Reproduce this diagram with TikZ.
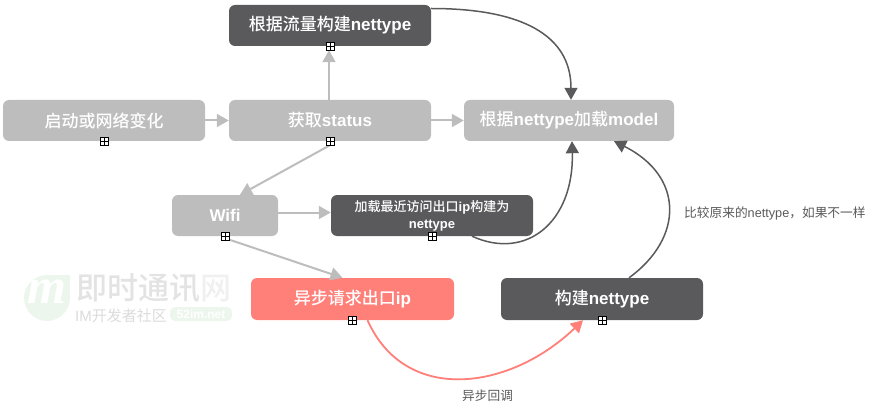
\documentclass[tikz,border=0pt]{standalone}
\usepackage{fontspec}
\setmainfont{Liberation Sans}
\newfontfamily\cjk[BoldFont={Noto Sans CJK SC Medium}]{Noto Sans CJK SC}
\newfontfamily\logofont{Liberation Serif}
\usetikzlibrary{arrows.meta}
\definecolor{boxgray}{HTML}{BDBDBD}
\definecolor{boxdark}{HTML}{5A5A5C}
\definecolor{boxred}{HTML}{FF7F79}
\definecolor{wmgreen}{HTML}{EDF6ED}
\begin{document}
\begin{tikzpicture}[x=1pt,y=-1pt,
    box/.style={rounded corners=6pt,text=white,inner sep=0pt,align=center,
      minimum width=202pt,minimum height=41pt,font=\fontsize{17}{20}\selectfont\bfseries},
    plusmark/.style={draw=black,fill=white,line width=0.6pt,minimum size=8pt,inner sep=0pt,
      path picture={\draw[line width=0.5pt] (path picture bounding box.north) -- (path picture bounding box.south)
        (path picture bounding box.west) -- (path picture bounding box.east);}},
    note/.style={text=boxdark,inner sep=0pt,font=\fontsize{12.7}{15}\selectfont},
    grayline/.style={draw=boxgray,line width=2pt,-{Triangle[length=12pt,width=13pt]}},
    darkline/.style={draw=boxdark,line width=1.5pt,-{Triangle[length=12pt,width=13pt]}},
    redline/.style={draw=boxred,line width=1.8pt,-{Triangle[length=12pt,width=13pt]}}]
    \useasboundingbox (0,0) rectangle (872,406);

    % Watermark
    \fill[wmgreen] (47,298) circle (23);
    \fill[wmgreen] (47,275) rectangle (70,298);
    \node[text=white,inner sep=0pt,font=\fontsize{50}{50}\selectfont\logofont\bfseries\itshape] (wmlogo) at (47,292) {m};
    \node[text=black!11,inner sep=0pt,anchor=west,text height=25pt,text depth=1pt,font=\fontsize{31}{31}\selectfont\cjk\bfseries] (wmname) at (76,287) {即时通讯\textcolor{black!6}{网}};
    \node[text=black!14,inner sep=0pt,anchor=west,text height=12pt,text depth=0pt,font=\fontsize{15}{15}\selectfont] (wmsub) at (75,315) {IM{\cjk 开发者社区}};
    \node[fill=wmgreen,text=white,rounded corners=5pt,minimum width=62pt,minimum height=14pt,inner sep=0pt,font=\fontsize{12}{12}\selectfont\bfseries] (wmsite) at (201,314) {52im.net};

    % Boxes
    \node[box,fill=boxgray] (start) at (104,120.5) {\cjk 启动或网络变化};
    \node[box,fill=boxgray] (status) at (330,120.5) {{\cjk 获取}status};
    \node[box,fill=boxdark] (flow) at (330,25.5) {{\cjk 根据流量构建}nettype};
    \node[box,fill=boxgray,minimum width=210pt] (model) at (569,120.5) {{\cjk 根据}nettype{\cjk 加载}model};
    \node[box,fill=boxgray,minimum width=106pt] (wifi) at (225,215.5) {Wifi};
    \node[box,fill=boxdark,font=\fontsize{13}{17}\selectfont\bfseries] (recent) at (432,215.5) {{\cjk 加载最近访问出口}ip{\cjk 构建为}\\nettype};
    \node[box,fill=boxred,minimum height=42pt,minimum width=203pt] (async) at (352.5,299) {{\cjk 异步请求出口}ip};
    \node[box,fill=boxdark,minimum height=42pt] (build) at (602,299) {{\cjk 构建}nettype};

    % Gray connectors
    \draw[grayline] (start) -- (status);
    \draw[grayline] ([xshift=-1pt]status.north) -- ([xshift=-1pt,yshift=-4pt]flow.south);
    \draw[grayline] (status) -- (model);
    \draw[grayline] ([yshift=-4pt]status.south) -- ([xshift=15pt]wifi.north);
    \draw[grayline] ([yshift=3pt]wifi.east) -- ([yshift=3pt]recent.west);
    \draw[grayline] ([yshift=-2pt]wifi.south) -- ([xshift=-10pt]async.north);

    % Dark connectors
    \draw[darkline] ([yshift=17pt]flow.east) .. controls +(90,0) and +(0,-65) .. ([xshift=2pt]model.north);
    \draw[darkline] ([xshift=40pt]recent.south) .. controls +(55,25) and +(2,80) .. ([xshift=3pt]model.south);
    \draw[darkline] ([xshift=27pt]build.north) .. controls +(55,-40) and +(70,35) .. ([xshift=45pt]model.south);

    % Red connector
    \draw[redline] ([xshift=15pt]async.south) .. controls +(38,85) and +(-73,70) .. ([xshift=-19pt]build.south);

    % Small markers under the boxes
    \node[plusmark] (startmark) at (start.south) {};
    \node[plusmark] (statusmark) at (status.south) {};
    \node[plusmark] (flowmark) at (flow.south) {};
    \node[plusmark] (wifimark) at (wifi.south) {};
    \node[plusmark] (recentmark) at (recent.south) {};
    \node[plusmark] (asyncmark) at (async.south) {};
    \node[plusmark] (buildmark) at (build.south) {};

    % Notes
    \node[note,anchor=west] (cmpnote) at (684,213) {{\cjk 比较原来的}nettype{\cjk \symbol{"FF0C}如果不一样}};
    \node[note,anchor=west] (cbnote) at (462,396) {\cjk 异步回调};
\end{tikzpicture}
\end{document}
